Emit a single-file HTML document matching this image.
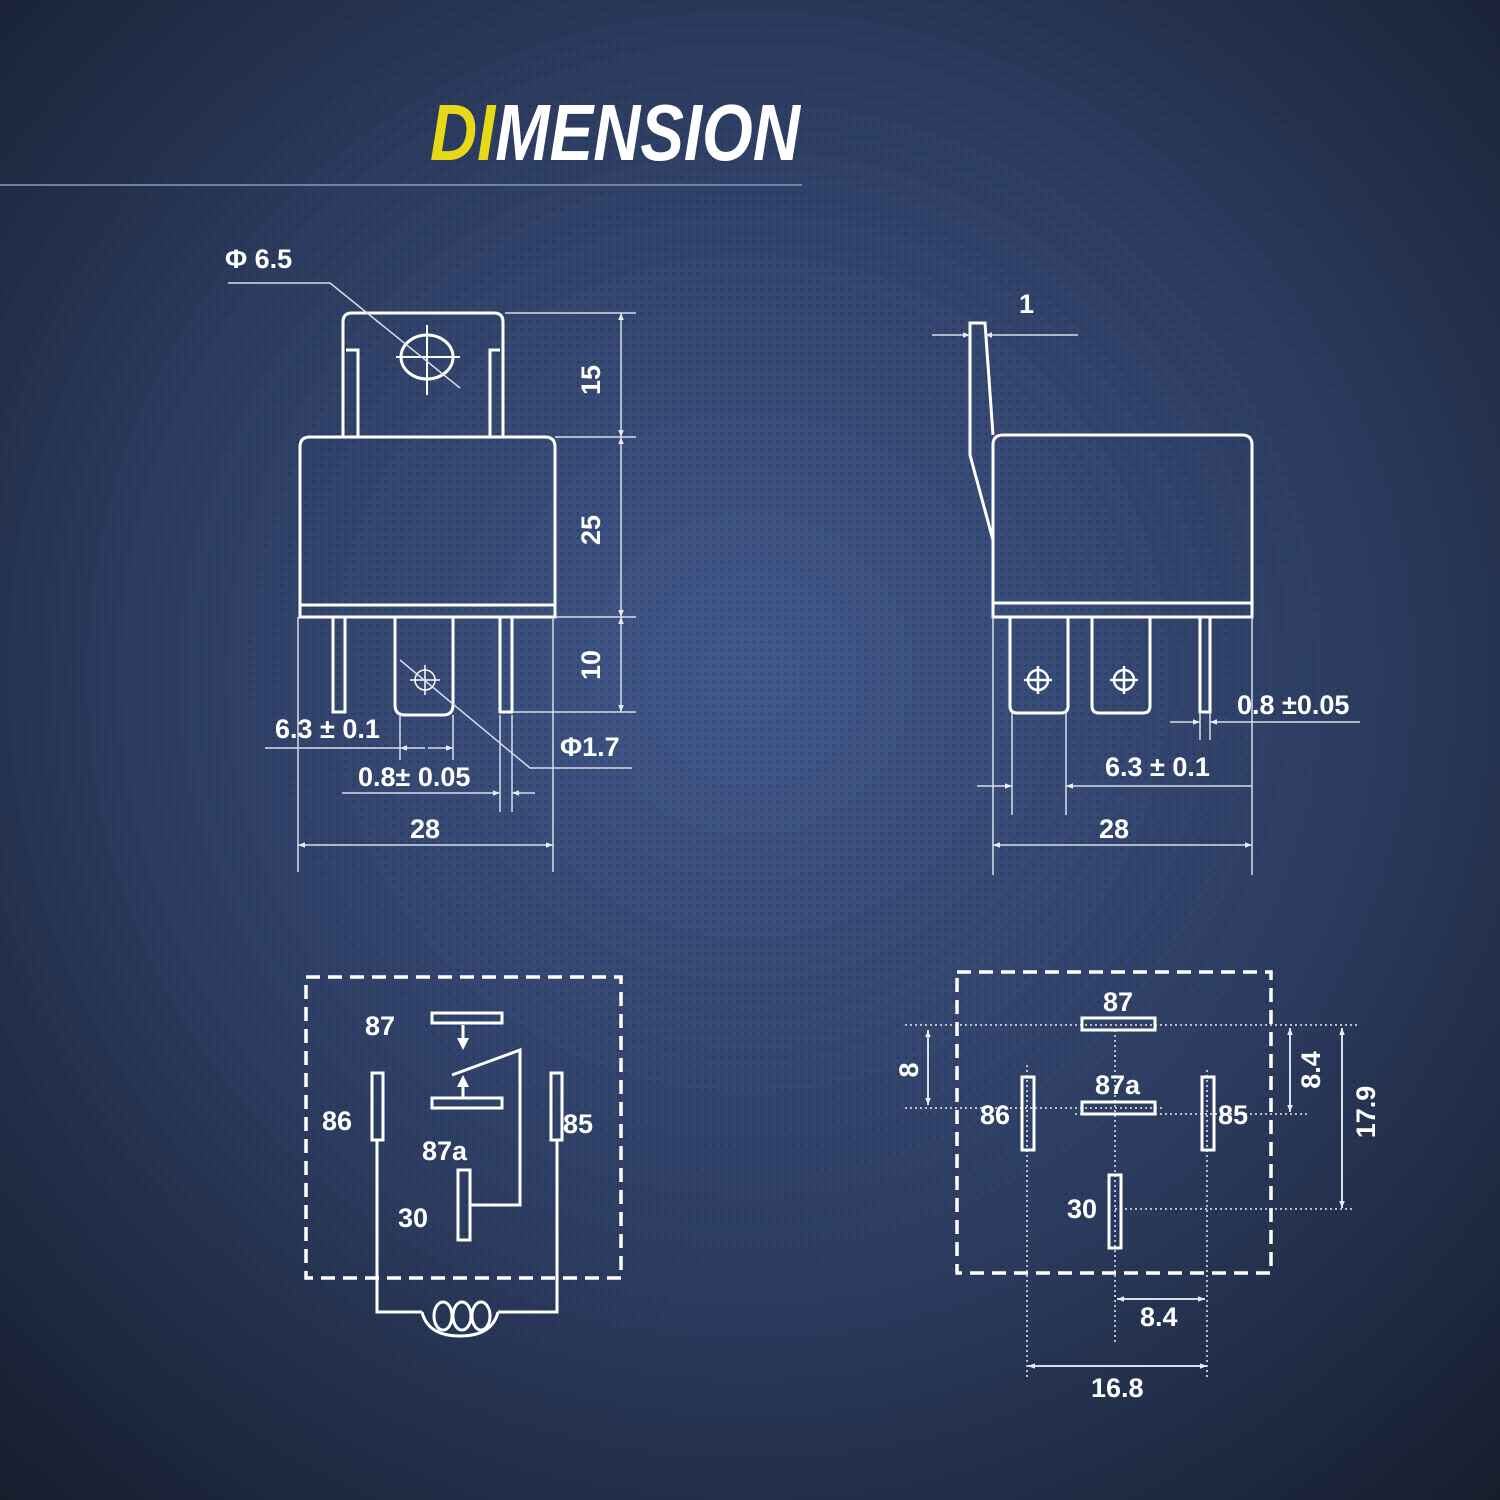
<!DOCTYPE html>
<html><head><meta charset="utf-8"><style>
html,body{margin:0;padding:0;background:#1c2438}
svg{display:block}
text{font-family:"Liberation Sans",sans-serif;font-weight:bold;fill:#fff}
</style></head><body>
<svg width="1500" height="1500" viewBox="0 0 1500 1500" xmlns="http://www.w3.org/2000/svg">
<defs>
<radialGradient id="bg" cx="0.5" cy="0.45" r="0.75">
<stop offset="0" stop-color="#42598c"/>
<stop offset="0.55" stop-color="#2c3c60"/>
<stop offset="1" stop-color="#161d2c"/>
</radialGradient>
<pattern id="dots" width="8" height="8" patternUnits="userSpaceOnUse">
<circle cx="2" cy="2" r="1.1" fill="#0d1424" opacity="0.35"/>
</pattern>
<marker id="a" viewBox="0 0 10 10" refX="10" refY="5" markerWidth="14" markerHeight="7" orient="auto-start-reverse" markerUnits="userSpaceOnUse">
<path d="M0,1 L10,5 L0,9 z" fill="#e8ecf4"/>
</marker>
</defs>
<rect width="1500" height="1500" fill="url(#bg)"/>
<rect width="1500" height="1500" fill="url(#dots)"/>

<text x="430" y="160" font-size="80" font-style="italic" textLength="370" lengthAdjust="spacingAndGlyphs"><tspan fill="#e8d81a">DI</tspan>MENSION</text>
<line x1="0" y1="185" x2="802" y2="185" stroke="#8a9bc0" stroke-width="1.5"/>

<g fill="none" stroke="#fff" stroke-width="3">
<path d="M343,437 V322 Q343,313 352,313 H494 Q503,313 503,322 V437"/>
<path d="M358,437 V350 H346 M490,437 V350 H500"/>
<ellipse cx="427" cy="357" rx="26" ry="22"/>
<path d="M300,617 V447 Q300,437 310,437 H545 Q555,437 555,447 V617 Z"/>
<line x1="300" y1="605" x2="555" y2="605"/>
<path d="M333,617 V712 H345 V617"/>
<path d="M500,617 V712 H512 V617"/>
<path d="M395,617 V705 Q395,715 405,715 H443 Q453,715 453,705 V617"/>
</g>
<g stroke="#fff" stroke-width="2" fill="none">
<line x1="396" y1="357" x2="460" y2="357"/><line x1="427" y1="325" x2="427" y2="395"/>
<circle cx="425" cy="680" r="10" stroke-width="1.5"/>
<line x1="410" y1="680" x2="440" y2="680" stroke-width="1.5"/><line x1="425" y1="665" x2="425" y2="695" stroke-width="1.5"/>
</g>
<g stroke="#d8deea" stroke-width="1.5" fill="none">
<path d="M228,283 H330 L460,388"/>
<path d="M400,660 L530,768 H632"/>
<line x1="505" y1="313" x2="636" y2="313"/>
<line x1="555" y1="437" x2="636" y2="437"/>
<line x1="555" y1="617" x2="636" y2="617"/>
<line x1="512" y1="712" x2="636" y2="712"/>
<line x1="621" y1="313" x2="621" y2="437" marker-start="url(#a)" marker-end="url(#a)"/>
<line x1="621" y1="437" x2="621" y2="617" marker-start="url(#a)" marker-end="url(#a)"/>
<line x1="621" y1="617" x2="621" y2="712" marker-start="url(#a)" marker-end="url(#a)"/>
<line x1="298" y1="617" x2="298" y2="872"/><line x1="553" y1="617" x2="553" y2="872"/>
<line x1="400" y1="715" x2="400" y2="760"/><line x1="453" y1="715" x2="453" y2="760"/>
<line x1="500" y1="715" x2="500" y2="812"/><line x1="512" y1="715" x2="512" y2="812"/>
<line x1="265" y1="748" x2="400" y2="748"/>
<line x1="400" y1="748" x2="425" y2="748" marker-start="url(#a)"/><line x1="428" y1="748" x2="453" y2="748" marker-end="url(#a)"/>
<line x1="342" y1="793" x2="500" y2="793" marker-end="url(#a)"/><line x1="535" y1="793" x2="512" y2="793" marker-end="url(#a)"/>
<line x1="298" y1="845" x2="553" y2="845" marker-start="url(#a)" marker-end="url(#a)"/>
</g>
<text x="225" y="268" font-size="27">Φ 6.5</text>
<text x="560" y="756" font-size="27">Φ1.7</text>
<text x="275" y="738" font-size="27">6.3 ± 0.1</text>
<text x="358" y="786" font-size="27">0.8± 0.05</text>
<text x="410" y="838" font-size="27">28</text>
<text transform="translate(600,380) rotate(-90)" font-size="27" text-anchor="middle">15</text>
<text transform="translate(600,530) rotate(-90)" font-size="27" text-anchor="middle">25</text>
<text transform="translate(600,665) rotate(-90)" font-size="27" text-anchor="middle">10</text>

<g fill="none" stroke="#fff" stroke-width="3">
<path d="M993,540 L970,455 V323 H985 L993,435"/>
<path d="M993,617 V445 Q993,435 1003,435 H1242 Q1252,435 1252,445 V617 Z"/>
<line x1="993" y1="603" x2="1252" y2="603"/>
<path d="M1010,617 V706 Q1010,713 1017,713 H1061 Q1068,713 1068,706 V617"/>
<path d="M1092,617 V706 Q1092,713 1099,713 H1143 Q1150,713 1150,706 V617"/>
<path d="M1200,617 V712 H1210 V617"/>
</g>
<g fill="none" stroke="#fff" stroke-width="2.5">
<circle cx="1038" cy="680" r="10"/><line x1="1024" y1="680" x2="1052" y2="680"/><line x1="1038" y1="666" x2="1038" y2="694"/>
<circle cx="1124" cy="680" r="10"/><line x1="1110" y1="680" x2="1138" y2="680"/><line x1="1124" y1="666" x2="1124" y2="694"/>
</g>
<g stroke="#d8deea" stroke-width="1.5" fill="none">
<line x1="932" y1="335" x2="970" y2="335" marker-end="url(#a)"/><line x1="1078" y1="335" x2="985" y2="335" marker-end="url(#a)"/>
<line x1="993" y1="617" x2="993" y2="875"/><line x1="1252" y1="617" x2="1252" y2="875"/>
<line x1="1012" y1="713" x2="1012" y2="815"/><line x1="1066" y1="713" x2="1066" y2="815"/>
<line x1="1200" y1="712" x2="1200" y2="740"/><line x1="1210" y1="712" x2="1210" y2="740"/>
<line x1="1170" y1="722" x2="1200" y2="722" marker-end="url(#a)"/><line x1="1360" y1="722" x2="1210" y2="722" marker-end="url(#a)"/>
<line x1="977" y1="786" x2="1012" y2="786" marker-end="url(#a)"/><line x1="1252" y1="786" x2="1066" y2="786" marker-end="url(#a)"/>
<line x1="993" y1="845" x2="1252" y2="845" marker-start="url(#a)" marker-end="url(#a)"/>
</g>
<text x="1019" y="313" font-size="27">1</text>
<text x="1237" y="714" font-size="27">0.8 ±0.05</text>
<text x="1105" y="776" font-size="27">6.3 ± 0.1</text>
<text x="1099" y="838" font-size="27">28</text>

<rect x="306" y="977" width="315" height="301" fill="none" stroke="#fff" stroke-width="3.5" stroke-dasharray="14,8"/>
<g fill="none" stroke="#fff" stroke-width="3">
<rect x="432" y="1013" width="70" height="10"/>
<rect x="432" y="1098" width="70" height="10"/>
<rect x="372" y="1073" width="11" height="67"/>
<rect x="551" y="1073" width="11" height="67"/>
<rect x="458" y="1170" width="12" height="70"/>
<path d="M452,1075 L520,1050 V1205 H470"/>
<line x1="463" y1="1025" x2="463" y2="1040"/><line x1="463" y1="1098" x2="463" y2="1085"/>
<path d="M377,1140 V1312 H422 M498,1312 H557 V1140"/>
<path d="M422,1312 Q428,1336 460,1336 Q492,1336 498,1312"/>
<ellipse cx="443" cy="1316" rx="9" ry="14"/>
<ellipse cx="462" cy="1316" rx="9" ry="14"/>
<ellipse cx="481" cy="1316" rx="9" ry="14"/>
</g>
<path d="M457,1038 L469,1038 L463,1050 Z" fill="#fff"/>
<path d="M457,1087 L469,1087 L463,1075 Z" fill="#fff"/>
<text x="365" y="1035" font-size="27">87</text>
<text x="322" y="1130" font-size="27">86</text>
<text x="563" y="1133" font-size="27">85</text>
<text x="422" y="1160" font-size="27">87a</text>
<text x="398" y="1227" font-size="27">30</text>

<rect x="957" y="972" width="314" height="301" fill="none" stroke="#fff" stroke-width="3.5" stroke-dasharray="14,8"/>
<g stroke="#e8ecf4" stroke-width="1.5" stroke-dasharray="2,3" fill="none">
<line x1="905" y1="1025" x2="1358" y2="1025"/>
<line x1="905" y1="1108" x2="1165" y2="1108"/>
<line x1="1075" y1="1114" x2="1310" y2="1114"/>
<line x1="1115" y1="1209" x2="1355" y2="1209"/>
<line x1="1115" y1="1030" x2="1115" y2="1345"/>
<line x1="1027" y1="1065" x2="1027" y2="1380"/>
<line x1="1207" y1="1070" x2="1207" y2="1380"/>
</g>
<g fill="none" stroke="#fff" stroke-width="3">
<rect x="1082" y="1018" width="73" height="12"/>
<rect x="1082" y="1102" width="73" height="12"/>
<rect x="1022" y="1077" width="12" height="73"/>
<rect x="1202" y="1077" width="12" height="73"/>
<rect x="1109" y="1175" width="12" height="73"/>
</g>
<g stroke="#d8deea" stroke-width="2" fill="none">
<line x1="928" y1="1030" x2="928" y2="1105" marker-start="url(#a)" marker-end="url(#a)"/>
<line x1="1290" y1="1028" x2="1290" y2="1112" marker-start="url(#a)" marker-end="url(#a)"/>
<line x1="1342" y1="1028" x2="1342" y2="1208" marker-start="url(#a)" marker-end="url(#a)"/>
<line x1="1117" y1="1299" x2="1205" y2="1299" marker-start="url(#a)" marker-end="url(#a)"/>
<line x1="1028" y1="1366" x2="1207" y2="1366" marker-start="url(#a)" marker-end="url(#a)"/>
</g>
<text x="1103" y="1011" font-size="27">87</text>
<text x="1095" y="1094" font-size="27">87a</text>
<text x="980" y="1124" font-size="27">86</text>
<text x="1218" y="1124" font-size="27">85</text>
<text x="1067" y="1218" font-size="27">30</text>
<text x="1140" y="1326" font-size="27">8.4</text>
<text x="1091" y="1397" font-size="27">16.8</text>
<text transform="translate(918,1070) rotate(-90)" font-size="27" text-anchor="middle">8</text>
<text transform="translate(1320,1070) rotate(-90)" font-size="27" text-anchor="middle">8.4</text>
<text transform="translate(1375,1112) rotate(-90)" font-size="27" text-anchor="middle">17.9</text>
</svg>
</body></html>
